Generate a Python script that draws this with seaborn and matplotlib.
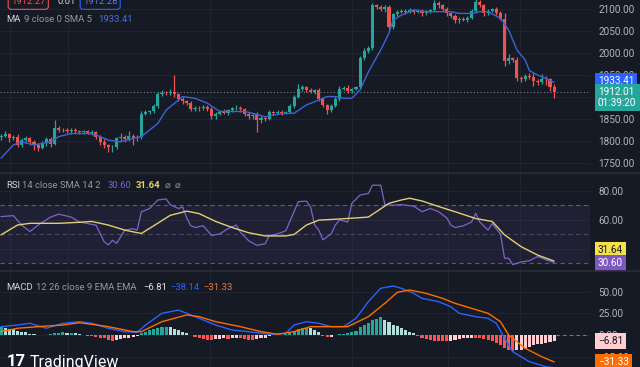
import numpy as np
import matplotlib
matplotlib.use("Agg")
import matplotlib.pyplot as plt
import matplotlib.transforms as mtransforms
from matplotlib.lines import Line2D
import seaborn as sns

# ---------------- data ----------------
closes = [1812, 1816, 1806, 1808, 1792, 1802, 1806, 1798, 1790, 1785,
          1795, 1804, 1794, 1830, 1826, 1824, 1822, 1826, 1822, 1820,
          1822, 1818, 1820, 1810, 1798, 1790, 1786, 1786, 1806, 1810,
          1804, 1812, 1806, 1808, 1862, 1866, 1868, 1880, 1906, 1910,
          1908, 1912, 1906, 1896, 1890, 1886, 1872, 1876, 1874, 1878,
          1872, 1856, 1862, 1866, 1864, 1870, 1874, 1876, 1872, 1862,
          1856, 1860, 1848, 1852, 1850, 1866, 1864, 1866, 1864, 1866,
          1880, 1900, 1918, 1922, 1916, 1912, 1916, 1895, 1882, 1870,
          1880, 1896, 1918, 1920, 1914, 1918, 1922, 1988, 2004, 2012,
          2108, 2104, 2100, 2104, 2058, 2088, 2094, 2096, 2094, 2098,
          2094, 2096, 2090, 2094, 2098, 2114, 2108, 2100, 2090, 2084,
          2074, 2078, 2076, 2080, 2096, 2116, 2108, 2090, 2096, 2100,
          2090, 2078, 1982, 1988, 1984, 1944, 1940, 1948, 1946, 1936,
          1934, 1942, 1940, 1922, 1912]
first_open = 1808
wick_up = [4, 6, 3, 5, 8, 4, 6, 3, 4, 5,
           6, 5, 4, 18, 4, 3, 5, 4, 3, 4,
           3, 4, 5, 3, 4, 6, 4, 5, 3, 8,
           4, 10, 5, 6, 6, 4, 3, 4, 6, 5,
           4, 6, 37, 4, 3, 4, 5, 3, 4, 3,
           4, 5, 3, 4, 6, 3, 4, 5, 4, 3,
           4, 3, 5, 4, 3, 4, 3, 4, 5, 3,
           4, 5, 12, 6, 4, 5, 3, 4, 5, 3,
           4, 5, 6, 4, 8, 3, 4, 6, 8, 5,
           6, 4, 5, 4, 6, 4, 3, 5, 4, 4,
           3, 4, 5, 4, 3, 6, 4, 3, 4, 3,
           4, 3, 4, 5, 4, 6, 4, 3, 4, 3,
           4, 5, 12, 10, 3, 6, 4, 5, 6, 8,
           4, 10, 6, 4, 8]
wick_dn = [5, 4, 8, 4, 6, 5, 4, 6, 10, 8,
           4, 6, 8, 4, 5, 4, 3, 5, 4, 3,
           4, 3, 5, 6, 8, 6, 10, 12, 4, 5,
           6, 4, 14, 5, 4, 3, 4, 5, 4, 3,
           4, 3, 5, 4, 6, 5, 4, 3, 5, 4,
           4, 5, 6, 4, 3, 5, 3, 4, 5, 6,
           5, 6, 28, 8, 4, 3, 4, 3, 4, 3,
           3, 4, 3, 4, 5, 3, 6, 5, 4, 8,
           4, 3, 4, 3, 5, 4, 3, 4, 5, 4,
           5, 4, 4, 6, 6, 4, 4, 3, 5, 4,
           5, 4, 6, 3, 4, 3, 5, 4, 5, 4,
           6, 5, 4, 6, 3, 4, 3, 5, 4, 3,
           4, 4, 12, 6, 5, 8, 6, 4, 5, 10,
           6, 4, 12, 8, 14]

ma_idx = [0, 3, 5, 8, 12, 14, 17, 21, 23, 26, 29, 32, 34, 38, 40, 43, 44, 47,
          50, 53, 56, 59, 61, 64, 66, 69, 71, 74, 77, 79, 81, 83, 85, 87, 89,
          92, 94, 95, 97, 100, 103, 109, 111, 114, 116, 118, 121, 123, 125,
          127, 128, 130, 132, 134]
ma_val = [1761, 1791, 1798, 1791, 1798, 1810, 1817, 1817, 1814, 1802, 1798,
          1806, 1810, 1840, 1870, 1893, 1901, 1897, 1886, 1867, 1867, 1867,
          1863, 1855, 1859, 1863, 1863, 1882, 1893, 1901, 1901, 1897, 1897,
          1916, 1957, 2007, 2045, 2075, 2086, 2098, 2094, 2094, 2090, 2090,
          2094, 2094, 2079, 2052, 2007, 1984, 1960, 1950, 1942, 1933.41]

rsi_idx = [0, 3, 5, 7, 9, 12, 14, 17, 19, 21, 23, 25, 26, 27, 28, 30, 32, 33,
           34, 36, 38, 40, 41, 43, 44, 45, 46, 47, 49, 51, 53, 55, 57, 58, 60,
           62, 64, 65, 67, 69, 71, 72, 74, 75, 76, 77, 78, 80, 81, 82, 84, 85,
           87, 89, 90, 92, 93, 95, 97, 100, 102, 104, 106, 108, 109, 110, 112,
           114, 115, 116, 118, 119, 121, 122, 123, 124, 126, 128, 130, 132, 134]
rsi_val = [62.3, 63, 56.5, 52, 56.5, 62, 64, 62, 58.6, 57.5, 56.5, 45, 42.8,
           46, 43.9, 53, 54, 53, 65.7, 67.9, 73.8, 74.5, 70.6, 67.9, 69, 61.4,
           56, 54.8, 56, 49.3, 50.4, 54, 56.5, 51.5, 45.7, 42.5, 43.6, 49.3,
           50.4, 52.6, 65.7, 72.6, 73, 69, 56.5, 53, 46.3, 50.4, 56.5, 60,
           58.6, 71.5, 77.2, 78.3, 84, 84, 70.6, 70.2, 70.6, 69.5, 65.7, 67.9,
           65.7, 61.4, 56.5, 54.8, 56, 58.6, 64.6, 58.6, 53, 57.5, 50.4, 33.6,
           33.6, 29.2, 31, 31.9, 34.8, 32.6, 30.6]
rsism_idx = [0, 4, 7, 14, 19, 22, 26, 30, 34, 37, 41, 45, 48, 52, 56, 60, 64,
             69, 71, 74, 77, 81, 86, 89, 94, 97, 99, 102, 106, 110, 115, 119,
             122, 126, 130, 134]
rsism_val = [49.7, 56.5, 57.7, 57.7, 58.4, 59, 56.5, 53, 50.7, 56, 63.2, 66.1,
             64.4, 59, 54.8, 51.2, 49, 49, 50, 56.5, 59.9, 60.5, 61.4, 62,
             71.5, 73.8, 75, 73.1, 69.3, 65.7, 61, 59, 49.7, 41.6, 35.8, 31.64]

macd_idx = [0, 4, 7, 11, 15, 19, 22, 26, 30, 33, 35, 39, 43, 45, 48, 52, 56,
            60, 65, 69, 71, 74, 77, 80, 83, 86, 89, 92, 95, 97, 100, 102, 106,
            109, 111, 115, 118, 120, 122, 124, 128, 132, 134]
macd_val = [9.7, 11.6, 13.6, 7.8, 13.6, 15.5, 13.6, 7.8, 3.9, 3.1, 11.6, 25.2,
            29, 25.2, 19.4, 11.6, 5.8, 3.9, 0.8, 1.9, 11.6, 15.5, 13.6, 9.7,
            9.7, 19.4, 38.8, 54.3, 57, 54.3, 48.4, 42.6, 38.8, 32.9, 25.2,
            21.3, 19.4, 13.6, -3.9, -19.4, -31, -36.8, -38.14]
sig_idx = [0, 4, 9, 15, 19, 22, 26, 32, 34, 39, 45, 48, 52, 58, 63, 67, 71,
           75, 80, 84, 89, 93, 96, 99, 103, 107, 110, 114, 118, 121, 123, 127,
           131, 134]
sig_val = [3.9, 7.8, 9.7, 11.6, 14.3, 12.4, 9.7, 3.9, 3.9, 15.5, 23.3, 21.3,
           15.5, 9.7, 3.9, 0.8, 3.9, 9.7, 9.7, 9.7, 21.3, 36.8, 49.6, 52.3,
           48.4, 42.6, 36.8, 31, 25.2, 15.5, 0, -15.5, -25.2, -31.33]
hist = [9, 8, 7, 6.5, 5, 4, 3, 1.5, 0.8, 0.5,
        0.5, 0.3, 1, 2, 2.5, 3, 2.5, 2.5, 2, 1,
        -0.5, -1, -1.5, -2, -3, -4, -5.5, -6.5, -6, -5,
        -4, -3, -2, -1, 2, 4, 6, 7.5, 8.5, 9,
        9.5, 9, 7.5, 6, 4, 2.5, 0.5, -2, -4, -5,
        -5.5, -5.5, -5, -4.5, -4, -4.5, -3.5, -3, -4, -5,
        -5.5, -5.5, -5, -4, -3, -1, -0.5, -0.5, 0.5, 1,
        3, 5, 7, 8, 8.5, 8, 6, 3, -1, -2.5,
        -2, -0.5, 1, 1.5, 2, 3, 5, 9, 12, 14,
        17, 19, 21, 18, 15, 12, 10, 8, 6, 4,
        2, -1, -3, -5, -6, -6.5, -7, -7, -7, -6.5,
        -6, -5, -4, -3.5, -3, -3, -4, -5, -6, -7,
        -9, -12, -15, -17, -19, -18, -17, -16, -14, -12,
        -11, -10, -9, -8, -6.81]

price_ticks = [1750, 1800, 1850, 1900, 1950, 2000, 2050, 2100]
price_hidden = [1900]
rsi_ticks = [40, 60, 80]
rsi_hidden = [40]
macd_ticks = [-25, 0, 25, 50]
grid_idx = [2.2, 16.2, 50.6, 85.1, 108.3, 125.8]

last_close = 1912.01
ma_last = 1933.41
rsi_last = 30.60
rsism_last = 31.64
hist_last = -6.81
macd_last = -38.14
sig_last = -31.33

# ---------------- style ----------------
BG = "#161a25"
GRID = "#21252f"
TXT = "#d1d4dc"
SUB = "#9598a1"
AX_TXT = "#b2b5be"
UP = "#26a69a"
DN = "#ef5350"
FS = 6.8

sns.set_theme(style="dark", rc={"axes.facecolor": BG, "figure.facecolor": BG,
                                "savefig.facecolor": BG})
plt.rcParams['font.family'] = ['Roboto', 'DejaVu Sans']

W, H = 640.0, 367.0
fig = plt.figure(figsize=(W / 100, H / 100), dpi=100)


def pane(top, bottom):
    return fig.add_axes([0, 1 - bottom / H, 590 / W, (bottom - top) / H])


ax1 = pane(0, 172)
ax2 = pane(173, 270)
ax3 = pane(271, 367)

n = len(closes)
idx = np.arange(n)
opens = np.array([first_open] + closes[:-1], dtype=float)
c = np.array(closes, dtype=float)
hi = np.maximum(opens, c) + np.array(wick_up)
lo = np.minimum(opens, c) - np.array(wick_dn)
up = c >= opens
cols = np.where(up, UP, DN)


def make_fmt(hidden):
    def f(v, p):
        if any(abs(v - h) < 1e-9 for h in hidden):
            return ""
        return f"{v:.2f}".replace("-", "\u2212")
    return matplotlib.ticker.FuncFormatter(f)


for ax, hid in ((ax1, price_hidden), (ax2, rsi_hidden), (ax3, [])):
    ax.set_facecolor(BG)
    ax.set_xlim(-0.24, 142.7)
    ax.set_xticks(grid_idx)
    ax.set_xticklabels([])
    ax.grid(True, color=GRID, lw=0.7)
    ax.yaxis.tick_right()
    ax.tick_params(axis='y', labelsize=7.2, colors=AX_TXT, pad=6, length=0)
    ax.tick_params(axis='x', length=0)
    for s in ax.spines.values():
        s.set_visible(False)
    ax.yaxis.set_major_formatter(make_fmt(hid))

# ---- price pane ----
ax1.set_ylim(1729.5, 2120.5)
ax1.set_yticks(price_ticks)
ax1.vlines(idx, lo, hi, colors=cols, lw=0.9, zorder=3)
ax1.bar(idx, np.maximum(np.abs(c - opens), 1.2), bottom=np.minimum(c, opens),
        width=0.75, color=cols, linewidth=0, zorder=4)
sns.lineplot(x=ma_idx, y=ma_val, ax=ax1, color="#3d63d6", lw=1.0,
             sort=False, errorbar=None, zorder=5)
ax1.axhline(last_close, color="#7b7f8c", lw=0.8, ls=(0, (1, 2)), zorder=2)

# ---- RSI pane ----
ax2.set_ylim(25.5, 92.4)
ax2.set_yticks(rsi_ticks)
ax2.axhspan(30, 70, color="#7e57c2", alpha=0.10, lw=0, zorder=1)
for lv, al in ((70, 0.7), (50, 0.45), (30, 0.7)):
    ax2.axhline(lv, color="#787b86", lw=0.8, ls=(0, (4, 3)), alpha=al, zorder=2)
sns.lineplot(x=rsi_idx, y=rsi_val, ax=ax2, color="#7e63c9", lw=0.9,
             sort=False, errorbar=None, zorder=4)
sns.lineplot(x=rsism_idx, y=rsism_val, ax=ax2, color="#e0cf73", lw=1.0,
             sort=False, errorbar=None, zorder=5)

# ---- MACD pane ----
ax3.set_ylim(-37.2, 74.4)
ax3.set_yticks(macd_ticks)
h = np.array(hist)
prev = np.concatenate([[h[0]], h[:-1]])
hcols = np.where(h >= 0, np.where(h >= prev, "#26a69a", "#b2dfdb"),
                 np.where(h <= prev, "#ff5252", "#ffcdd2"))
ax3.bar(idx, h, width=0.75, color=hcols, linewidth=0, zorder=3)
sns.lineplot(x=macd_idx, y=macd_val, ax=ax3, color="#2962ff", lw=1.0,
             sort=False, errorbar=None, zorder=4)
sns.lineplot(x=sig_idx, y=sig_val, ax=ax3, color="#ff6d00", lw=1.0,
             sort=False, errorbar=None, zorder=5)
ax3.plot([n - 0.5, 142.7], [0, 0], color="#787b86", lw=0.8,
         ls=(0, (3, 3)), zorder=2)

for ax in (ax1, ax2, ax3):
    leg = ax.get_legend()
    if leg is not None:
        leg.remove()
    ax.set_xlabel("")
    ax.set_ylabel("")


# ---- right-side value boxes ----
def vbox(ax, val, text, fc, tc, dy=0, fs=7.2):
    tr = mtransforms.blended_transform_factory(ax.transAxes, ax.transData)
    ax.annotate(text, xy=(1.0, val), xycoords=tr, xytext=(8, dy),
                textcoords="offset pixels", ha="left", va="center",
                fontsize=fs, color=tc, annotation_clip=False, zorder=10,
                linespacing=1.1,
                bbox=dict(boxstyle="square,pad=0.3", fc=fc, ec="none"))


vbox(ax1, ma_last, f"{ma_last:.2f}", "#2962ff", "white", dy=1)
vbox(ax1, last_close, f"{last_close:.2f}\n01:39:20", "#26a69a", "white", dy=-6)
vbox(ax2, rsism_last, f"{rsism_last:.2f}", "#f5e04a", "#131722", dy=11)
vbox(ax2, rsi_last, f"{rsi_last:.2f}", "#7e57c2", "white")
vbox(ax3, hist_last, f"\u2212{abs(hist_last):.2f}", "#ffcdd2", "#131722")
vbox(ax3, sig_last, f"\u2212{abs(sig_last):.2f}", "#ff6d00", "white")

# pane separators
for yy in (172.5, 270.5):
    fig.add_artist(Line2D([0, 1], [1 - yy / H, 1 - yy / H],
                          transform=fig.transFigure, color="#2a2e39", lw=1.2))


# ---- legends / header text ----
def ftxt(x, y, s, color=TXT, fs=FS, **kw):
    fig.text(x / W, 1 - y / H, s, color=color, fontsize=fs, va="center",
             ha="left", **kw)


ftxt(11, 2, "1912.27", color="#ef5350",
     bbox=dict(boxstyle="round,pad=0.3", fc="none", ec="#ef5350", lw=0.8))
ftxt(57, 2, "0.01", color=TXT)
ftxt(83, 2, "1912.28", color="#5b7bd6",
     bbox=dict(boxstyle="round,pad=0.3", fc="none", ec="#2962ff", lw=0.8))

ftxt(6, 19, "MA", color=TXT)
ftxt(24, 19, "9 close 0 SMA 5", color=SUB)
ftxt(98, 19, f"{ma_last:.2f}", color="#4a6fd8")

ftxt(6, 185, "RSI", color=TXT)
ftxt(22, 185, "14 close SMA 14 2", color=SUB)
ftxt(108, 185, f"{rsi_last:.2f}", color="#7e63c9")
ftxt(136, 185, f"{rsism_last:.2f}", color="#e8d65a", fontweight="bold")
ftxt(165, 185, "\u2300", color=SUB, family=['DejaVu Sans'])
ftxt(175, 185, "\u2300", color=SUB, family=['DejaVu Sans'])

ftxt(6, 287, "MACD", color=TXT)
ftxt(36, 287, "12 26 close 9 EMA EMA", color=SUB)
ftxt(143, 287, f"\u2212{abs(hist_last):.2f}", color="#e6e8ee")
ftxt(170, 287, f"\u2212{abs(macd_last):.2f}", color="#2962ff")
ftxt(203, 287, f"\u2212{abs(sig_last):.2f}", color="#f0793a")

ftxt(7, 362, "17", color="white", fs=12, fontweight="bold")
ftxt(30, 362, "TradingView", color="white", fs=11.5)

fig.savefig("out.png", dpi=100, facecolor=BG)
